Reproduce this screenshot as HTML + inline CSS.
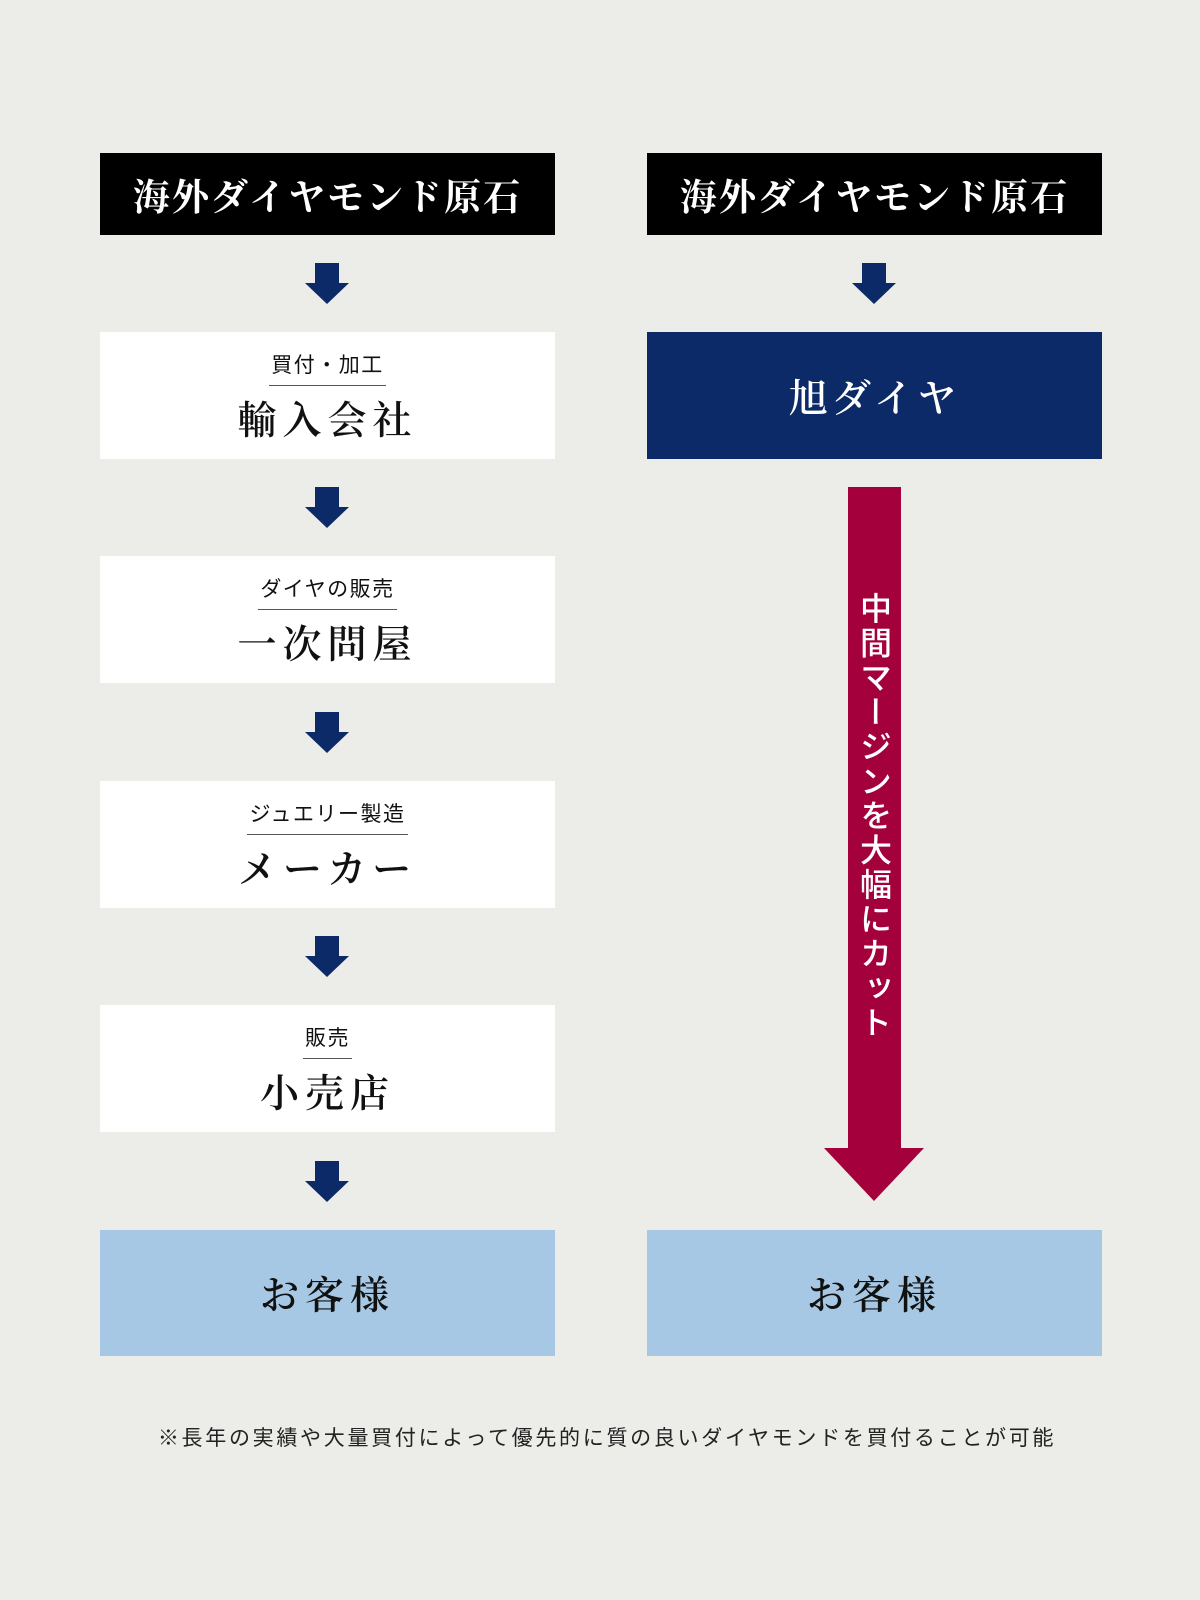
<!DOCTYPE html>
<html><head><meta charset="utf-8"><style>
body{margin:0;width:1200px;height:1600px;background:#ecede8;position:relative;overflow:hidden;font-family:"Liberation Serif","Noto Serif CJK SC",serif}
.b{position:absolute;width:455px;display:flex;flex-direction:column;align-items:center;justify-content:center;box-sizing:border-box}
.hd{background:#000;color:#fff;height:82px;font-size:37px;font-weight:bold;letter-spacing:2px}
.w{background:#fff;height:127px}
.sm{font-family:"Liberation Sans","Noto Sans CJK JP",sans-serif;font-size:21px;color:#111;border-bottom:1.5px solid #555;padding:0 2px 6px;letter-spacing:1.5px;margin-top:4px}
.mn{font-size:39px;color:#111;letter-spacing:6px;margin-top:4px;font-weight:600}
.cu{background:#a7c8e4;height:126px;font-size:39px;color:#111;letter-spacing:6px;font-weight:600}
</style></head><body>
<div class="b hd" style="left:100px;top:153px">海外ダイヤモンド原石</div>
<div class="b hd" style="left:647px;top:153px">海外ダイヤモンド原石</div>

<div class="b w" style="left:100px;top:332px"><div class="sm">買付・加工</div><div class="mn">輸入会社</div></div>
<div class="b w" style="left:100px;top:556px"><div class="sm">ダイヤの販売</div><div class="mn">一次問屋</div></div>
<div class="b w" style="left:100px;top:781px"><div class="sm">ジュエリー製造</div><div class="mn">メーカー</div></div>
<div class="b w" style="left:100px;top:1005px"><div class="sm">販売</div><div class="mn">小売店</div></div>
<div class="b cu" style="left:100px;top:1230px">お客様</div>
<div class="b cu" style="left:647px;top:1230px">お客様</div>
<div class="b" style="left:647px;top:332px;height:127px;background:#0c2a68;color:#fff;font-size:39px;letter-spacing:4px;font-weight:600">旭ダイヤ</div>

<svg width="1200" height="1600" style="position:absolute;left:0;top:0">
<g fill="#0c2a68">
<path id="a" d="M315 263h24v20h10l-22 21-22-21h10z"/>
<use href="#a" y="224"/><use href="#a" y="449"/><use href="#a" y="673"/><use href="#a" y="898"/>
<use href="#a" x="547"/>
</g>
<path fill="#a3003c" d="M848 487h53v661h23l-50 53-50-53h24z"/>
<text fill="#fff" font-family="Liberation Sans,Noto Sans CJK JP,sans-serif" font-size="32" font-weight="500" x="874" y="592" style="writing-mode:vertical-rl;letter-spacing:2.5px">中間マージンを大幅にカット</text>
<text x="607" y="1445" text-anchor="middle" font-family="Liberation Sans,Noto Sans CJK JP,sans-serif" font-size="21" fill="#222" letter-spacing="2.7">※長年の実績や大量買付によって優先的に質の良いダイヤモンドを買付ることが可能</text>
</svg>
</body></html>
